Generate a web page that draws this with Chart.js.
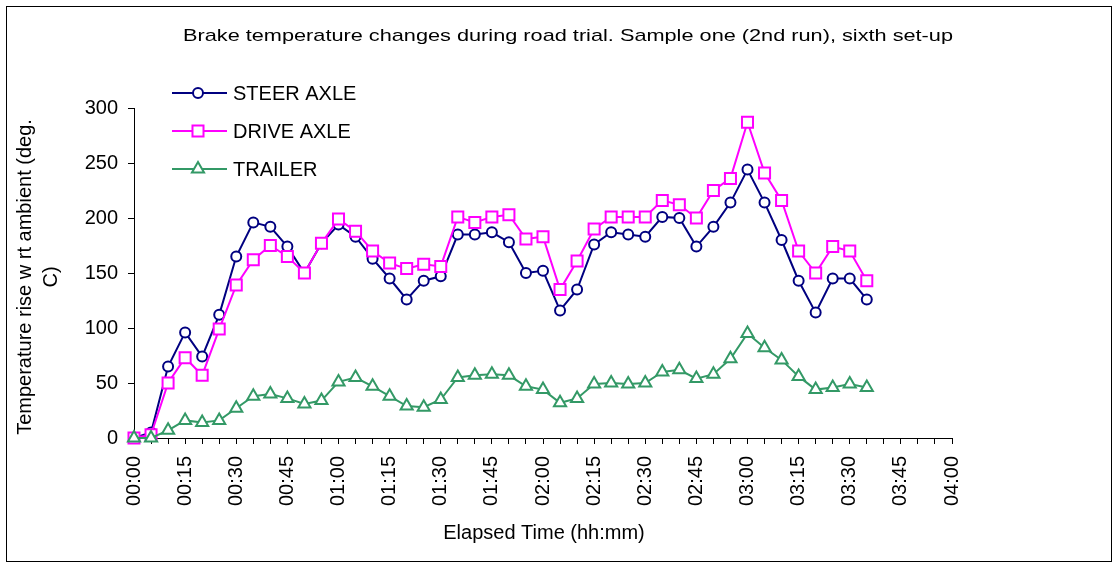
<!DOCTYPE html>
<html>
<head>
<meta charset="utf-8">
<title>Brake temperature changes</title>
<script src="https://cdn.jsdelivr.net/npm/chart.js@4.4.0/dist/chart.umd.min.js"></script>
<style>
  html, body { margin: 0; padding: 0; background: #fff; }
  #wrap { width: 1120px; height: 563px; }
</style>
</head>
<body>
<div id="wrap"><canvas id="chart" width="1120" height="563"></canvas></div>
<script>
// Dados (leituras a cada 5 minutos)
const times = ['00:00','00:05','00:10','00:15','00:20','00:25','00:30','00:35','00:40','00:45',
               '00:50','00:55','01:00','01:05','01:10','01:15','01:20','01:25','01:30','01:35',
               '01:40','01:45','01:50','01:55','02:00','02:05','02:10','02:15','02:20','02:25',
               '02:30','02:35','02:40','02:45','02:50','02:55','03:00','03:05','03:10','03:15',
               '03:20','03:25','03:30','03:35'];

const steerAxle = [0,5,65,96,74,112,165,196,192,174,150,177,194,183,163,145,126,143,147,185,
                   185,187,178,150,152,116,135,176,187,185,183,201,200,174,192,214,244,214,180,143,
                   114,145,145,126];
const driveAxle = [0,3,50,73,57,99,139,162,175,165,150,177,199,188,170,159,154,158,156,201,
                   196,201,203,181,183,135,161,190,201,201,201,216,212,200,225,236,287,241,216,170,
                   150,174,170,143];
const trailer   = [0,0,7,16,14,16,27,38,40,36,31,34,51,55,47,38,29,28,35,55,
                   57,58,57,47,44,32,36,49,50,49,50,60,62,54,58,72,95,82,71,56,
                   44,46,49,46];

const xTickLabels = ['00:00','00:15','00:30','00:45','01:00','01:15','01:30','01:45','02:00',
                     '02:15','02:30','02:45','03:00','03:15','03:30','03:45','04:00'];
const yTickLabels = ['0','50','100','150','200','250','300'];

const seriesNames = ['STEER AXLE', 'DRIVE AXLE', 'TRAILER'];

const FONT = '"Liberation Sans", Arial, sans-serif';

function toMinutes(t) {
    const p = t.split(':');
    return parseInt(p[0], 10) * 60 + parseInt(p[1], 10);
}

function toPoints(values) {
    return values.map((v, i) => ({ x: toMinutes(times[i]), y: v }));
}

const xMax = toMinutes(xTickLabels[xTickLabels.length - 1]);
const yMax = Number(yTickLabels[yTickLabels.length - 1]);

const styles = [
    { color: '#000080', point: 'circle',   radius: 5 },
    { color: '#FF00FF', point: 'rect',     radius: 7.8 },
    { color: '#339966', point: 'triangle', radius: 7 }
];

const datasets = [steerAxle, driveAxle, trailer].map((vals, i) => ({
    label: seriesNames[i],
    data: toPoints(vals),
    borderColor: styles[i].color,
    backgroundColor: '#ffffff',
    borderWidth: 2,
    pointStyle: styles[i].point,
    pointRadius: styles[i].radius,
    pointBorderWidth: 2,
    pointBorderColor: styles[i].color,
    pointBackgroundColor: '#ffffff',
    tension: 0,
    clip: false,
    order: 2 - i
}));

// Moldura, títulos e legenda desenhados à mão
const decorPlugin = {
    id: 'decor',
    afterDraw(chart) {
        const ctx = chart.ctx;
        ctx.save();
        // moldura externa
        ctx.strokeStyle = '#000';
        ctx.lineWidth = 1;
        ctx.strokeRect(6.5, 6.5, 1105, 555);

        ctx.fillStyle = '#000';
        ctx.textAlign = 'center';
        ctx.textBaseline = 'middle';

        // título (fonte esticada na horizontal como no original)
        const title = 'Brake temperature changes during road trial. Sample one (2nd run), sixth set-up';
        ctx.font = '17px ' + FONT;
        const tw = ctx.measureText(title).width;
        ctx.save();
        ctx.translate(568, 36);
        ctx.scale(770 / tw, 1);
        ctx.fillText(title, 0, 0);
        ctx.restore();

        // título do eixo X
        ctx.font = '20px ' + FONT;
        ctx.fillText('Elapsed Time (hh:mm)', 544, 533);

        // título do eixo Y (duas linhas)
        ctx.save();
        ctx.translate(0, 277);
        ctx.rotate(-Math.PI / 2);
        ctx.textBaseline = 'alphabetic';
        ctx.fillText('Temperature rise w rt ambient (deg.', 0, 31);
        ctx.fillText('C)', 0, 57);
        ctx.restore();

        // legenda
        const rowsY = [93, 131, 169];
        ctx.textAlign = 'left';
        datasets.forEach((ds, i) => {
            const y = rowsY[i];
            ctx.strokeStyle = ds.borderColor;
            ctx.lineWidth = 2;
            ctx.beginPath();
            ctx.moveTo(172, y);
            ctx.lineTo(227, y);
            ctx.stroke();
            ctx.fillStyle = '#ffffff';
            Chart.helpers.drawPoint(ctx, {
                pointStyle: ds.pointStyle,
                radius: ds.pointRadius,
                borderWidth: 2,
                rotation: 0
            }, 198, y);
            ctx.fillStyle = '#000';
            ctx.fillText(ds.label, 233, y + 1);
        });
        ctx.restore();
    }
};

new Chart(document.getElementById('chart'), {
    type: 'line',
    data: { datasets: datasets },
    options: {
        responsive: false,
        animation: false,
        devicePixelRatio: 1,
        layout: { padding: { top: 108, right: 168, bottom: 0, left: 0 } },
        plugins: {
            legend: { display: false },
            title: { display: false },
            tooltip: { enabled: false }
        },
        scales: {
            x: {
                type: 'linear',
                min: 0,
                max: xMax,
                afterFit(scale) { scale.height = 125; },
                grid: { drawOnChartArea: false, drawTicks: true, tickLength: 6, color: '#000', lineWidth: 1 },
                border: { display: true, color: '#000', width: 1 },
                ticks: {
                    stepSize: 5,
                    autoSkip: false,
                    minRotation: 90,
                    maxRotation: 90,
                    padding: 12,
                    color: '#000',
                    font: { family: FONT, size: 20 },
                    callback: function(v) {
                        return v % 15 === 0 ? xTickLabels[v / 15] : '';
                    }
                }
            },
            y: {
                min: 0,
                max: yMax,
                afterFit(scale) { scale.width = 134; },
                grid: { drawOnChartArea: false, drawTicks: true, tickLength: 6, color: '#000', lineWidth: 1 },
                border: { display: true, color: '#000', width: 1 },
                ticks: {
                    stepSize: 50,
                    padding: 10,
                    color: '#000',
                    font: { family: FONT, size: 20 },
                    callback: function(v) {
                        return yTickLabels[v / 50];
                    }
                }
            }
        }
    },
    plugins: [decorPlugin]
});
</script>
</body>
</html>
